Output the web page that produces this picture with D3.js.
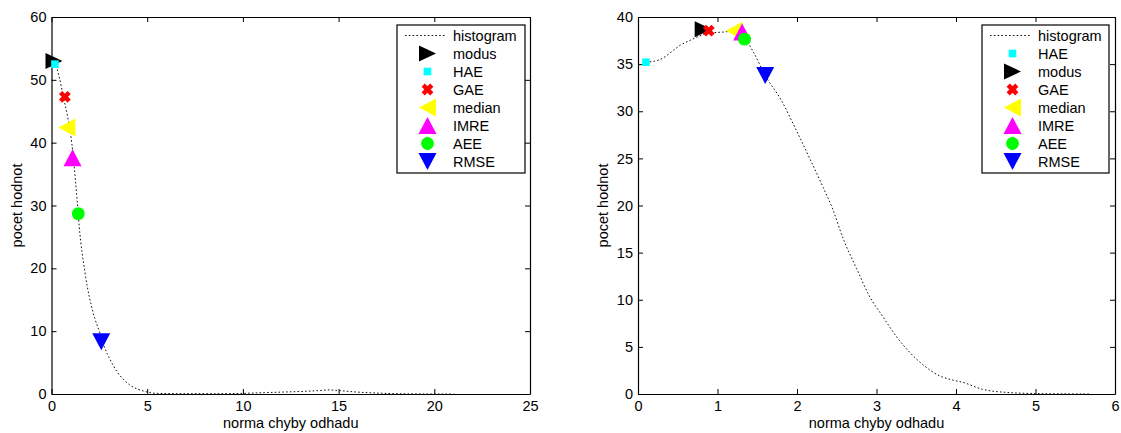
<!DOCTYPE html>
<html>
<head>
<meta charset="utf-8">
<script src="https://cdn.jsdelivr.net/npm/d3@7"></script>
<style>
  body { margin: 0; background: #fff; }
  text { font-family: "Liberation Sans", Arial, Helvetica, sans-serif; }
</style>
</head>
<body>
<svg id="chart" width="1121" height="433"></svg>
<script>
// ---- data ----
// left panel: histogram curve
const leftHistX = [0.03, 0.18, 0.4, 0.62, 0.85, 0.97, 1.14, 1.35, 1.45, 1.75, 2.18, 2.53, 2.8, 3.06, 3.41, 3.8, 4.11, 4.78, 5.5, 7, 8.5, 10, 11, 12, 13, 14, 14.5, 15, 16, 17, 18, 19, 20, 21];
const leftHistY = [53.2, 52.7, 50.5, 47.3, 44.0, 42.0, 37.7, 30.4, 26.6, 19.3, 12.9, 9.7, 7.2, 5.5, 3.6, 2.2, 1.4, 0.5, 0.1, 0.05, 0.05, 0.1, 0.2, 0.3, 0.4, 0.55, 0.65, 0.55, 0.3, 0.15, 0.05, 0.02, 0, 0];
// left panel: estimators (legend order)
const leftNames = ["modus", "HAE", "GAE", "median", "IMRE", "AEE", "RMSE"];
const leftEstX = [0.13, 0.18, 0.7, 0.8, 1.1, 1.4, 2.6];
const leftEstY = [53.0, 52.5, 47.3, 42.4, 37.6, 28.7, 8.3];
const leftXTicks = [0, 5, 10, 15, 20, 25];
const leftYTicks = [0, 10, 20, 30, 40, 50, 60];

// right panel
const rightHistX = [0.1, 0.28, 0.45, 0.53, 0.65, 0.78, 0.9, 1.07, 1.2, 1.3, 1.45, 1.6, 1.8, 1.99, 2.16, 2.33, 2.45, 2.58, 2.75, 2.91, 3.08, 3.25, 3.42, 3.6, 3.8, 3.95, 4.1, 4.33, 4.67, 5.0, 5.3, 5.7];
const rightHistY = [35.2, 35.5, 36.5, 37.0, 37.5, 38.0, 38.3, 38.4, 38.5, 38.2, 36.3, 33.8, 31.2, 28.0, 25.0, 21.9, 19.6, 16.5, 13.3, 10.4, 8.2, 6.1, 4.4, 3.0, 1.9, 1.5, 1.2, 0.5, 0.15, 0.05, 0.02, 0];
const rightNames = ["HAE", "modus", "GAE", "median", "IMRE", "AEE", "RMSE"];
const rightEstX = [0.1, 0.82, 0.89, 1.21, 1.31, 1.34, 1.6];
const rightEstY = [35.2, 38.7, 38.55, 38.55, 38.4, 37.65, 33.8];
const rightXTicks = [0, 1, 2, 3, 4, 5, 6];
const rightYTicks = [0, 5, 10, 15, 20, 25, 30, 35, 40];

// marker look per estimator
const markerStyle = {
  modus:  { shape: "right", color: "#000000" },
  HAE:    { shape: "square", color: "#00ffff" },
  GAE:    { shape: "x", color: "#ff0000" },
  median: { shape: "left", color: "#ffff00" },
  IMRE:   { shape: "up", color: "#ff00ff" },
  AEE:    { shape: "circle", color: "#00ff00" },
  RMSE:   { shape: "down", color: "#0000ff" }
};

const FS = "14.5px";
const svg = d3.select("#chart");

function markerPath(shape) {
  const w = 18, h = 17;
  switch (shape) {
    case "up": return `M0,${-h/2}L${w/2},${h/2}L${-w/2},${h/2}Z`;
    case "down": return `M0,${h/2}L${w/2},${-h/2}L${-w/2},${-h/2}Z`;
    case "right": return `M${h/2},0L${-h/2},${-w/2+1}L${-h/2},${w/2-1}Z`;
    case "left": return `M${-h/2},0L${h/2},${-w/2}L${h/2},${w/2}Z`;
    case "square": return "M-3.8,-3.8H3.8V3.8H-3.8Z";
    case "circle": return d3.symbol(d3.symbolCircle, 130)();
    case "x": return "M-4.3,-4.3L4.3,4.3M4.3,-4.3L-4.3,4.3";
  }
}

function drawMarker(g, name, cx, cy) {
  const st = markerStyle[name];
  const p = g.append("path")
    .attr("d", markerPath(st.shape))
    .attr("transform", `translate(${cx},${cy})`);
  if (st.shape === "x") {
    p.attr("fill", "none").attr("stroke", st.color).attr("stroke-width", 4.5);
  } else {
    p.attr("fill", st.color);
  }
}

function drawPanel(cfg) {
  const x = d3.scaleLinear().domain(cfg.xDomain).range([cfg.left, cfg.right]);
  const y = d3.scaleLinear().domain(cfg.yDomain).range([cfg.bottom, cfg.top]);
  const g = svg.append("g");
  const fmt = d3.format("d");

  // box with inward ticks on all sides
  const axes = [
    [d3.axisBottom(x).tickValues(cfg.xTicks).tickFormat(fmt).tickPadding(7), `translate(0,${cfg.bottom})`],
    [d3.axisTop(x).tickValues(cfg.xTicks).tickFormat(""), `translate(0,${cfg.top})`],
    [d3.axisLeft(y).tickValues(cfg.yTicks).tickFormat(fmt).tickPadding(5), `translate(${cfg.left},0)`],
    [d3.axisRight(y).tickValues(cfg.yTicks).tickFormat(""), `translate(${cfg.right},0)`]
  ];
  axes.forEach(([ax, tr]) => {
    const a = g.append("g").attr("transform", tr)
      .call(ax.tickSizeInner(-5).tickSizeOuter(0));
    a.select(".domain").attr("stroke", "#000").attr("stroke-width", 1.2);
    a.selectAll(".tick line").attr("stroke", "#000");
    a.selectAll(".tick text").attr("fill", "#000").style("font-size", FS);
  });

  // histogram curve
  const pts = cfg.histX.map((v, i) => [v, cfg.histY[i]]);
  g.append("path")
    .datum(pts)
    .attr("fill", "none")
    .attr("stroke", "#111")
    .attr("stroke-width", 1)
    .attr("stroke-dasharray", "1.6,2.2")
    .attr("d", d3.line().x(d => x(d[0])).y(d => y(d[1])).curve(d3.curveMonotoneX));

  // estimator markers
  cfg.names.forEach((n, i) => drawMarker(g, n, x(cfg.estX[i]), y(cfg.estY[i])));

  // axis labels
  g.append("text")
    .attr("x", (cfg.left + cfg.right) / 2)
    .attr("y", 428)
    .attr("text-anchor", "middle")
    .style("font-size", FS)
    .text("norma chyby odhadu");
  g.append("text")
    .attr("transform", `translate(${cfg.left - 30},${(cfg.top + cfg.bottom) / 2}) rotate(-90)`)
    .attr("text-anchor", "middle")
    .style("font-size", FS)
    .text("pocet hodnot");

  // legend
  const lg = g.append("g").attr("transform", `translate(${cfg.legendX},25)`);
  const rows = ["histogram"].concat(cfg.names);
  lg.append("rect")
    .attr("width", cfg.legendW).attr("height", 148)
    .attr("fill", "#fff").attr("stroke", "#000").attr("stroke-width", 1.2);
  rows.forEach((r, i) => {
    const ry = 10.5 + i * 18;
    if (r === "histogram") {
      lg.append("line")
        .attr("x1", 8).attr("x2", 49).attr("y1", ry).attr("y2", ry)
        .attr("stroke", "#111").attr("stroke-dasharray", "1.6,2.2");
    } else {
      drawMarker(lg, r, 30.5, ry);
    }
    lg.append("text")
      .attr("x", 56).attr("y", ry + 5)
      .style("font-size", FS)
      .text(r);
  });
}

drawPanel({
  left: 51.5, right: 530, top: 17, bottom: 394,
  xDomain: [0, 25], yDomain: [0, 60],
  xTicks: leftXTicks, yTicks: leftYTicks,
  histX: leftHistX, histY: leftHistY,
  names: leftNames, estX: leftEstX, estY: leftEstY,
  legendX: 397, legendW: 128
});

drawPanel({
  left: 638, right: 1115, top: 17, bottom: 394,
  xDomain: [0, 6], yDomain: [0, 40],
  xTicks: rightXTicks, yTicks: rightYTicks,
  histX: rightHistX, histY: rightHistY,
  names: rightNames, estX: rightEstX, estY: rightEstY,
  legendX: 982, legendW: 127
});
</script>
</body>
</html>
